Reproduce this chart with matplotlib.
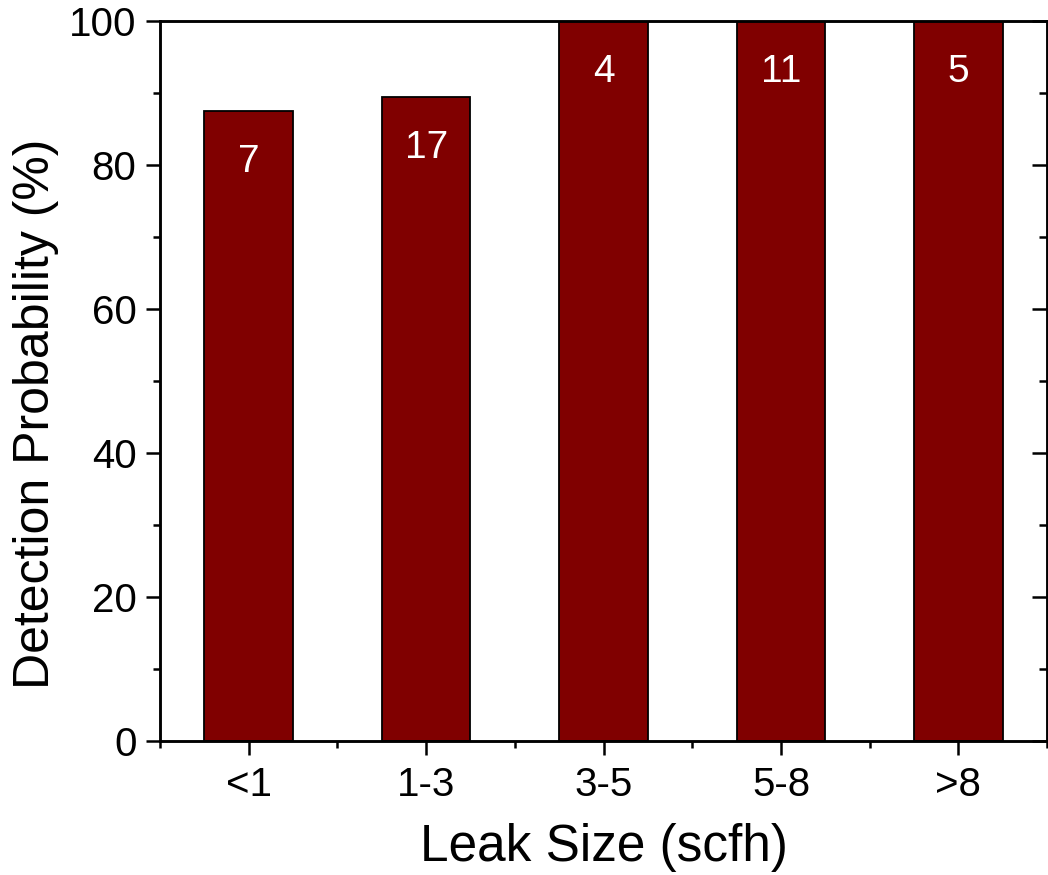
import numpy as np
import matplotlib.pyplot as plt
from matplotlib.ticker import MultipleLocator, FixedLocator

# Leak size bins and detection probability, with number of leaks per bin
categories = ['<1', '1-3', '3-5', '5-8', '>8']
probability = [87.5, 89.5, 100, 100, 100]
counts = ['7', '17', '4', '11', '5']

plt.rcParams['font.family'] = ['Liberation Sans', 'DejaVu Sans']

fig = plt.figure(figsize=(10.48, 8.75), dpi=100)
ax = fig.add_axes([0.1527, 0.1531, 0.8464, 0.8229])

x = np.arange(1, len(categories) + 1)
ax.bar(x, probability, width=0.5, color='#800000', edgecolor='black', linewidth=1.3, zorder=2)

for xi, p, c in zip(x, probability, counts):
    ax.annotate(c, (xi, p), xytext=(0, -37), textcoords='offset points',
                ha='center', va='center', color='white', fontsize=28)

ax.set_xlim(0.5, 5.5)
ax.set_ylim(0, 100)
ax.set_xticks(x)
ax.set_xticklabels(categories)
ax.xaxis.set_minor_locator(FixedLocator(np.arange(0.5, 6, 1)))
ax.yaxis.set_major_locator(MultipleLocator(20))
ax.yaxis.set_minor_locator(MultipleLocator(10))

for s in ax.spines.values():
    s.set_linewidth(1.8)

ax.tick_params(axis='both', which='major', labelsize=29, width=1.8, length=10, direction='out')
ax.tick_params(axis='both', which='minor', width=1.8, length=5, direction='out')
ax.tick_params(axis='x', which='major', pad=8)
ax.tick_params(axis='y', which='major', pad=7)

# inward ticks on the right side
ax2 = ax.twinx()
ax2.set_ylim(0, 100)
ax2.yaxis.set_major_locator(MultipleLocator(20))
ax2.yaxis.set_minor_locator(MultipleLocator(10))
ax2.tick_params(axis='y', which='major', direction='in', length=11, width=1.8, labelright=False)
ax2.tick_params(axis='y', which='minor', direction='in', length=6, width=1.8)
for s in ax2.spines.values():
    s.set_linewidth(1.8)

ax.set_xlabel('Leak Size (scfh)', fontsize=37, labelpad=14)
ax.set_ylabel('Detection Probability (%)', fontsize=36)
# label sits a bit below the axis centre, as in the original
ax.yaxis.set_label_coords(-0.114, 0.454)

fig.savefig('out.png', dpi=100)
